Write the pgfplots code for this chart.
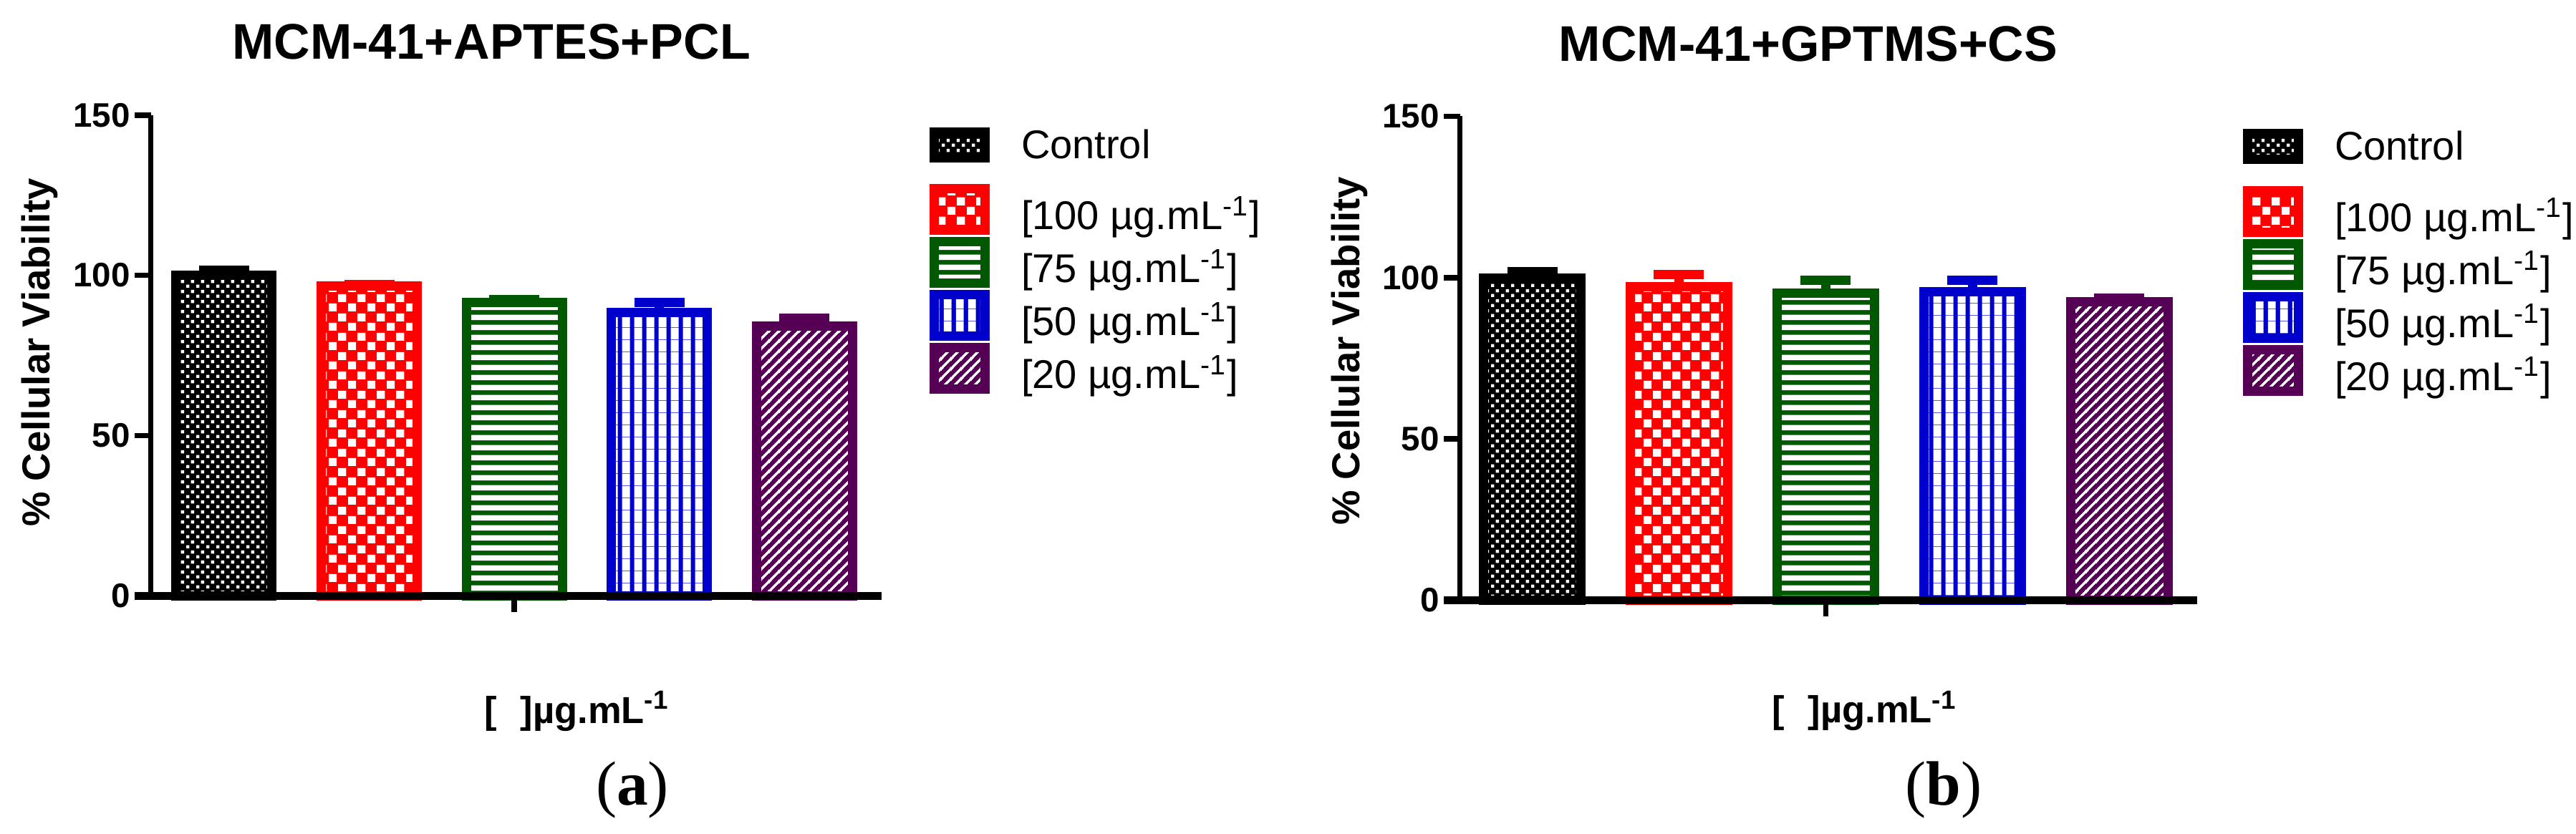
\documentclass[border=0pt]{standalone}
\usepackage{fontspec}
\setmainfont{Liberation Sans}
\newfontfamily\seriffont{Liberation Serif}
\usepackage{pgfplots}
\pgfplotsset{compat=1.18}
\usetikzlibrary{patterns}

% white-on-transparent patterns (inherently coloured)
\pgfdeclarepatterninherentlycolored{ctrlW}{\pgfqpoint{0pt}{0pt}}{\pgfqpoint{2.74pt}{2.74pt}}{\pgfqpoint{2.74pt}{2.74pt}}{%
  \pgfsetfillcolor{white}%
  \pgfpathrectangle{\pgfqpoint{0pt}{0pt}}{\pgfqpoint{0.9pt}{0.9pt}}%
  \pgfpathrectangle{\pgfqpoint{1.37pt}{1.37pt}}{\pgfqpoint{0.9pt}{0.9pt}}%
  \pgfusepath{fill}}
\pgfdeclarepatterninherentlycolored{checkW}{\pgfqpoint{0pt}{0pt}}{\pgfqpoint{5.4pt}{5.4pt}}{\pgfqpoint{5.4pt}{5.4pt}}{%
  \pgfsetfillcolor{white}%
  \pgfpathrectangle{\pgfqpoint{0pt}{0pt}}{\pgfqpoint{2.3pt}{2.3pt}}%
  \pgfpathrectangle{\pgfqpoint{2.7pt}{2.7pt}}{\pgfqpoint{2.3pt}{2.3pt}}%
  \pgfusepath{fill}}
\pgfdeclarepatterninherentlycolored{hlinesW}{\pgfqpoint{0pt}{0pt}}{\pgfqpoint{2.8pt}{2.8pt}}{\pgfqpoint{2.8pt}{2.8pt}}{%
  \pgfsetfillcolor{white}%
  \pgfpathrectangle{\pgfqpoint{0pt}{0.6pt}}{\pgfqpoint{2.8pt}{1.6pt}}%
  \pgfusepath{fill}}
\pgfdeclarepatterninherentlycolored{vlinesW}{\pgfqpoint{0pt}{0pt}}{\pgfqpoint{3.33pt}{3.33pt}}{\pgfqpoint{3.33pt}{3.33pt}}{%
  \pgfsetfillcolor{white}%
  \pgfpathrectangle{\pgfqpoint{0.56pt}{0pt}}{\pgfqpoint{2.2pt}{3.33pt}}%
  \pgfusepath{fill}}
\pgfdeclarepatterninherentlycolored{diagW}{\pgfqpoint{0pt}{0pt}}{\pgfqpoint{2.83pt}{2.83pt}}{\pgfqpoint{2.83pt}{2.83pt}}{%
  \pgfsetstrokecolor{white}\pgfsetlinewidth{0.7pt}%
  \pgfpathmoveto{\pgfqpoint{-0.5pt}{-0.5pt}}\pgfpathlineto{\pgfqpoint{3.33pt}{3.33pt}}%
  \pgfpathmoveto{\pgfqpoint{-0.5pt}{2.33pt}}\pgfpathlineto{\pgfqpoint{0.5pt}{3.33pt}}%
  \pgfpathmoveto{\pgfqpoint{2.33pt}{-0.5pt}}\pgfpathlineto{\pgfqpoint{3.33pt}{0.5pt}}%
  \pgfusepath{stroke}}

\definecolor{gpgreen}{RGB}{0,88,0}
\definecolor{gpblue}{RGB}{0,0,204}
\definecolor{gppurple}{RGB}{85,0,85}

% #1 x, #2 value, #3 error, #4 colour, #5 pattern, #6/#7 legend box y range, #8 legend row depth
\newcommand{\gpbar}[8]{%
  \addplot[ybar, bar shift=0pt, fill=#4, draw=none, forget plot] coordinates {(#1,#2)};
  \addplot[ybar, bar shift=0pt, pattern=#5, draw=none, forget plot] coordinates {(#1,#2)};
  \addplot[ybar, bar shift=0pt, fill=none, draw=#4, line width=2.6pt,
    error bars/y dir=plus, error bars/y explicit,
    error bars/error bar style={line width=2.6pt, #4},
    error bars/error mark options={line width=2.6pt, #4, mark size=7pt, rotate=90},
    legend image code/.code={%
      \fill[#4] (0pt,#6) rectangle (14.2pt,#7);
      \fill[pattern=#5] (0pt,#6) rectangle (14.2pt,#7);
      \draw[#4, line width=2.6pt] (0pt,#6) rectangle (14.2pt,#7);
      \path (0pt,#8);}]
    coordinates {(#1,#2) +- (0,#3)};
}

\pgfplotsset{
  common/.style={
    scale only axis, anchor=south west,
    axis lines=left, axis line style={-, black},
    y axis line style={line width=1.5pt},
    x axis line style={line width=2.2pt, shorten <=-4.5pt},
    ymin=0, ymax=150, ytick={0,50,100,150}, xtick={2}, xticklabels={},
    tick align=outside, major tick length=4.6pt, tick style={line width=1.5pt, black},
    /pgf/number format/assume math mode=true,
    yticklabel style={font=\bfseries\fontsize{9.5}{11}\selectfont, inner sep=1pt},
    axis on top, clip=false,
    every axis title/.style={font=\bfseries\fontsize{14}{16}\selectfont, anchor=base},
    every axis x label/.style={font=\bfseries\fontsize{10.5}{12}\selectfont, anchor=base},
    every axis y label/.style={font=\bfseries\fontsize{10.9}{12}\selectfont, anchor=base, rotate=90},
    legend style={draw=none, fill=none, inner sep=0pt, outer sep=0pt, anchor=north west,
      row sep=0.6pt, column sep=8.9pt, font=\fontsize{11.2}{13}\selectfont,
      nodes={inner sep=0pt}, cells={anchor=base west}},
    ylabel={\% Cellular Viability},
    xlabel={[\hspace{6.5pt}]µg.mL\textsuperscript{-1}},
  },
}

\begin{document}
\begin{tikzpicture}
\path[use as bounding box] (0,0) rectangle (719.4pt,232.8pt);

% (a)
\begin{axis}[common, at={(42.1pt,66.4pt)}, width=204.1pt, height=134.24pt,
  xmin=-0.506, xmax=4.533, bar width=26.8pt,
  title={MCM-41+APTES+PCL},
  title style={at={(axis description cs:0.466,1.116)}},
  xlabel style={at={(axis description cs:0.5835,-0.2652)}},
  ylabel style={at={(axis description cs:-0.1377,0.5058)}},
  legend style={at={(axis description cs:1.0652,0.9745)}}]
\gpbar{0}{100.0}{1.6}{black}{ctrlW}{0.2pt}{7.4pt}{-5.3pt}
\addlegendentry{Control}
\gpbar{1}{96.6}{0.5}{red}{checkW}{-0.2pt}{11.4pt}{0pt}
\addlegendentry{[100 µg.mL\textsuperscript{-1}]}
\gpbar{2}{91.5}{0.9}{gpgreen}{hlinesW}{-0.2pt}{11.4pt}{0pt}
\addlegendentry{[75 µg.mL\textsuperscript{-1}]}
\gpbar{3}{88.4}{3.1}{gpblue}{vlinesW}{-0.2pt}{11.4pt}{0pt}
\addlegendentry{[50 µg.mL\textsuperscript{-1}]}
\gpbar{4}{84.1}{2.5}{gppurple}{diagW}{-0.2pt}{11.4pt}{0pt}
\addlegendentry{[20 µg.mL\textsuperscript{-1}]}
\end{axis}

% (b)
\begin{axis}[common, at={(407.74pt,65.1pt)}, width=205.86pt, height=135.2pt,
  xmin=-0.492, xmax=4.531, bar width=27.2pt,
  title={MCM-41+GPTMS+CS},
  title style={at={(axis description cs:0.4725,1.1146)}},
  xlabel style={at={(axis description cs:0.5492,-0.2537)}},
  ylabel style={at={(axis description cs:-0.1367,0.515)}},
  legend style={at={(axis description cs:1.0617,0.974)}}]
\gpbar{0}{99.8}{2.0}{black}{ctrlW}{0.2pt}{7.4pt}{-5.3pt}
\addlegendentry{Control}
\gpbar{1}{97.3}{3.7}{red}{checkW}{-0.2pt}{11.4pt}{0pt}
\addlegendentry{[100 µg.mL\textsuperscript{-1}]}
\gpbar{2}{95.3}{3.9}{gpgreen}{hlinesW}{-0.2pt}{11.4pt}{0pt}
\addlegendentry{[75 µg.mL\textsuperscript{-1}]}
\gpbar{3}{95.6}{3.6}{gpblue}{vlinesW}{-0.2pt}{11.4pt}{0pt}
\addlegendentry{[50 µg.mL\textsuperscript{-1}]}
\gpbar{4}{92.5}{1.1}{gppurple}{diagW}{-0.2pt}{11.4pt}{0pt}
\addlegendentry{[20 µg.mL\textsuperscript{-1}]}
\end{axis}

\node[anchor=base, font=\seriffont\fontsize{17.5}{20}\selectfont] at (176.6pt,8pt) {(\textbf{a})};
\node[anchor=base, font=\seriffont\fontsize{17.5}{20}\selectfont] at (542.8pt,8pt) {(\textbf{b})};
\end{tikzpicture}
\end{document}
